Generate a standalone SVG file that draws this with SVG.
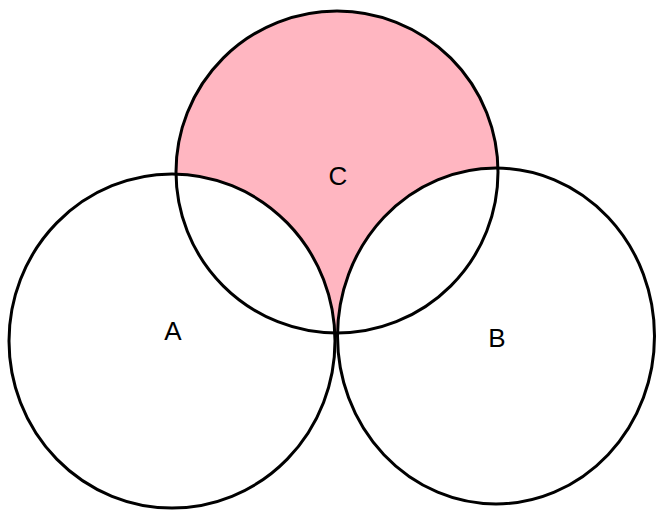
<svg xmlns="http://www.w3.org/2000/svg" width="657" height="510" viewBox="0 0 657 510">
<style>
.c{fill:none;stroke:#000;stroke-width:3}
.t{font-family:"Liberation Sans",Arial,sans-serif;font-size:26px;fill:#000;text-anchor:middle}
</style>
<defs>
<mask id="m">
<rect width="657" height="510" fill="#000"/>
<ellipse cx="337" cy="172" rx="161" ry="161" fill="#fff"/>
<ellipse cx="172" cy="341" rx="163" ry="167" fill="#000"/>
<ellipse cx="496" cy="336" rx="158.5" ry="168" fill="#000"/>
</mask>
</defs>
<rect width="657" height="510" fill="#fff"/>
<rect width="657" height="510" fill="#FFB6C1" mask="url(#m)"/>
<g id="A"><ellipse class="c" cx="172" cy="341" rx="163" ry="167"/><text class="t" x="173" y="340">A</text></g>
<g id="B"><ellipse class="c" cx="496" cy="336" rx="158.5" ry="168"/><text class="t" x="497" y="347">B</text></g>
<g id="C"><ellipse class="c" cx="337" cy="172" rx="161" ry="161"/><text class="t" x="338" y="185">C</text></g>
<g id="connectors"/>
</svg>
